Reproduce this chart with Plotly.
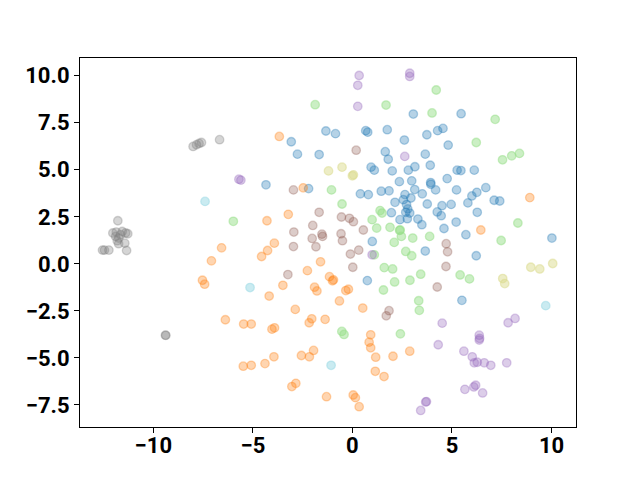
import plotly.graph_objects as go

blue_x = [3.06,-3.07,-1.33,-0.85,0.67,0.77,1.75,2.61,-2.76,-1.67,1.65,1.80,0.94,1.1,2.0,2.81,3.14,2.36,2.98,-4.34,
          5.46,3.74,4.28,4.55,4.81,3.66,3.91,5.26,5.45,6.12,3.93,4.76,
          -2.2,0.4,0.8,1.45,1.84,2.64,2.94,2.14,2.56,2.72,2.78,2.68,2.88,2.39,2.76,1.96,1.0,0.75,
          3.94,4.18,3.51,3.13,5.23,6.7,6.25,6.0,5.8,7.12,7.4,3.76,4.5,4.26,4.46,4.96,6.27,3.29,3.49,5.21,4.6,5.7,10.02,3.66,6.22,5.5]
blue_y = [7.96,6.49,7.06,6.92,7.08,7.0,7.13,6.58,5.83,5.81,5.96,5.56,5.14,4.98,4.94,4.98,5.16,4.37,4.41,4.2,
          7.98,6.86,7.08,7.2,6.31,5.83,5.24,4.98,4.96,4.98,4.32,4.53,
          4.0,3.72,3.68,3.86,3.88,3.68,3.5,3.27,3.41,3.15,2.92,2.74,2.7,2.35,2.4,2.72,1.19,-0.89,
          4.23,3.93,3.72,3.95,3.93,4.05,3.8,3.61,3.24,3.38,3.34,3.18,3.09,2.76,2.56,3.16,2.74,2.38,2.08,2.22,1.88,1.55,1.37,0.68,0.43,-1.94]

orange_x = [-3.67,-2.47,-3.22,-4.29,-3.92,-4.26,-4.56,-1.6,-2.26,-1.15,-1.0,-0.95,-3.49,-1.9,-1.78,-4.18,-0.33,-0.2,-0.65,0.52,
            8.91,6.45,-6.57,-7.08,-7.53,-7.42,-6.38,-5.46,-5.08,-5.48,-5.08,
            -2.87,-4.04,-3.91,-2.17,-2.04,-1.37,0.92,0.84,0.92,2.88,-4.39,-3.94,-2.56,-2.16,-1.95,1.17,2.04,1.15,1.59,
            -3.04,-2.84,-1.3,0.04,0.15,0.34]
orange_y = [6.77,4.04,2.63,2.29,1.1,0.71,0.39,0.11,-0.36,-0.68,-0.9,-0.85,-1.14,-1.24,-1.44,-1.71,-1.42,-1.35,-1.97,-2.35,
            3.52,1.8,0.85,0.16,-0.87,-1.08,-2.97,-3.2,-3.2,-5.44,-5.39,
            -2.42,-3.47,-3.4,-3.13,-2.92,-2.95,-3.77,-4.16,-4.46,-4.64,-5.3,-4.94,-4.87,-4.94,-4.6,-4.96,-4.91,-5.71,-5.99,
            -6.52,-6.35,-7.06,-6.97,-7.11,-7.59]

green_x = [-1.87,1.69,4.21,4.0,7.17,6.22,7.54,8.0,8.39,
           -1.05,-0.52,1.39,1.49,0.99,1.22,1.89,2.37,2.40,2.46,2.1,3.03,2.68,2.98,1.1,1.6,2.02,1.56,2.12,2.89,
           8.31,7.47,3.88,3.43,5.41,5.88,3.33,3.36,-5.98,-0.53,-0.42,2.41]
green_y = [8.46,8.44,9.24,8.02,7.68,6.45,5.53,5.74,5.87,
           3.93,3.18,2.83,2.70,2.35,1.9,1.94,1.78,1.8,1.46,1.14,1.37,0.66,0.43,0.48,-0.2,-0.27,-1.39,-0.96,-0.87,
           2.17,1.24,1.46,-0.55,-0.59,-0.8,-1.96,-2.47,2.26,-3.59,-3.75,-3.72]

purple_x = [0.34,0.27,0.27,2.88,2.88,2.63,-5.7,-5.6,0.99,
            4.51,7.82,8.17,6.37,6.39,6.37,4.31,5.6,6.02,6.12,6.27,6.62,6.95,7.75,5.65,6.1,6.19,6.54,3.68,3.72,3.43]
purple_y = [10.01,9.49,8.37,10.13,9.96,5.71,4.5,4.45,0.48,
            -3.15,-3.13,-2.9,-3.79,-3.96,-4.05,-4.3,-4.64,-4.94,-5.26,-5.23,-5.26,-5.39,-5.26,-6.67,-6.54,-6.45,-6.86,-7.34,-7.32,-7.79]

brown_x = [0.19,-2.96,-1.67,-1.99,-0.55,-0.15,0.05,-2.94,-1.53,-1.5,-2.02,-0.57,-0.5,0.55,-2.96,-1.83,-0.1,0.32,0.02,-3.24,
           4.71,4.78,4.7,4.26,1.84,1.7]
brown_y = [6.04,3.93,2.74,2.04,2.49,2.42,2.24,1.69,1.58,1.46,1.35,1.6,1.23,1.8,0.92,0.91,0.52,0.73,-0.18,-0.57,
           1.07,0.64,-0.14,-1.23,-2.49,-2.76]

gray_x = [-8.0,-7.83,-7.70,-7.58,-6.67,-11.78,
          -12.03,-11.86,-11.56,-11.28,-11.39,-11.89,-11.73,-11.81,-11.43,-11.74,-11.64,
          -12.55,-12.45,-12.23,-11.34,-9.39,-9.37]
gray_y = [6.24,6.33,6.40,6.45,6.60,2.29,
          1.64,1.69,1.72,1.6,1.64,1.46,1.37,1.23,1.1,1.07,1.55,
          0.73,0.73,0.73,0.71,-3.79,-3.8]

olive_x = [-1.2,-0.52,0.0,0.05,8.96,9.41,10.06,7.55,7.65]
olive_y = [4.94,5.14,4.68,4.73,-0.18,-0.27,0.02,-0.78,-1.05]

cyan_x = [-7.4,-5.14,-1.07,9.71]
cyan_y = [3.32,-1.26,-5.39,-2.22]

groups = [
    (blue_x, blue_y, (31, 119, 180), 0.33),
    (orange_x, orange_y, (255, 127, 14), 0.33),
    (green_x, green_y, (152, 223, 138), 0.5),
    (purple_x, purple_y, (148, 103, 189), 0.33),
    (brown_x, brown_y, (140, 86, 75), 0.3),
    (gray_x, gray_y, (127, 127, 127), 0.33),
    (olive_x, olive_y, (219, 219, 141), 0.5),
    (cyan_x, cyan_y, (158, 218, 229), 0.55),
]

fig = go.Figure()
for xs, ys, (r, g, b), a in groups:
    col = f"rgba({r},{g},{b},{a})"
    fig.add_trace(go.Scatter(
        x=xs, y=ys, mode="markers",
        marker=dict(size=8.5, color=col, line=dict(color=col, width=1.3)),
        showlegend=False, hoverinfo="skip"))

axis_common = dict(
    showline=True, mirror=True, linecolor="black", linewidth=1.2,
    ticks="outside", ticklen=5, tickwidth=1.2, tickcolor="black",
    showgrid=False, zeroline=False, automargin=False,
    tickfont=dict(family="Roboto", size=22, color="black", weight="bold"),
)
fig.update_xaxes(range=[-13.68, 11.23], tickvals=[-10, -5, 0, 5, 10],
                 ticktext=["\u221210", "\u22125", "0", "5", "10"],
                 ticklabelstandoff=-7, **axis_common)
fig.update_yaxes(range=[-8.67, 10.94], tickvals=[-7.5, -5, -2.5, 0, 2.5, 5, 7.5, 10],
                 ticktext=["\u22127.5", "\u22125.0", "\u22122.5", "0.0", "2.5", "5.0", "7.5", "10.0"],
                 **axis_common)
fig.update_layout(
    width=640, height=480,
    margin=dict(l=72, r=72, t=50, b=61),
    plot_bgcolor="white", paper_bgcolor="white",
)
fig.write_html("out.html")
